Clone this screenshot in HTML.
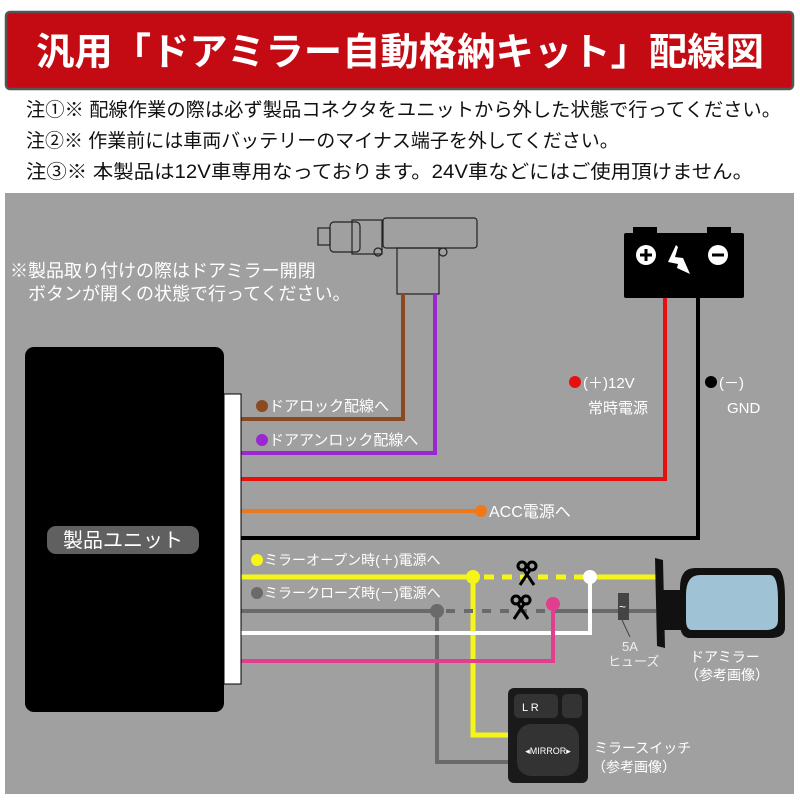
<!DOCTYPE html>
<html><head><meta charset="utf-8"><style>
html,body{margin:0;padding:0;background:#fff;width:800px;height:800px;overflow:hidden}
svg{display:block}
text{font-family:"Liberation Sans","Noto Sans CJK JP",sans-serif}
</style></head><body>
<svg width="800" height="800" viewBox="0 0 800 800" xmlns="http://www.w3.org/2000/svg">
<rect x="6" y="12" width="787" height="77" rx="4" fill="#c40a12" stroke="#555" stroke-width="2.5"/>
<text x="400" y="65" text-anchor="middle" font-size="38" font-weight="bold" fill="#fff" font-family="'Noto Sans CJK JP',sans-serif" textLength="728" lengthAdjust="spacingAndGlyphs">汎用「ドアミラー自動格納キット」配線図</text>
<g font-size="19" fill="#111">
<text x="26" y="116" textLength="755" lengthAdjust="spacingAndGlyphs">注①※ 配線作業の際は必ず製品コネクタをユニットから外した状態で行ってください。</text>
<text x="26" y="147">注②※ 作業前には車両バッテリーのマイナス端子を外してください。</text>
<text x="26" y="178" textLength="727" lengthAdjust="spacingAndGlyphs">注③※ 本製品は12V車専用なっております。24V車などにはご使用頂けません。</text>
</g>
<rect x="5" y="193" width="789" height="601" fill="#a0a0a0"/>
<g font-size="18" fill="#fff">
<text x="10" y="277">※製品取り付けの際はドアミラー開閉</text>
<text x="28" y="300">ボタンが開くの状態で行ってください。</text>
</g>
<!-- actuator -->
<g fill="none" stroke="#222" stroke-width="1.2">
<rect x="318" y="228" width="12" height="17"/>
<rect x="330" y="222" width="30" height="30" rx="4"/>
<rect x="352" y="220" width="30" height="34"/>
<rect x="383" y="218" width="94" height="30" rx="3"/>
<rect x="397" y="248" width="42" height="46"/>
<circle cx="378" cy="252" r="4"/><circle cx="443" cy="252" r="4"/>
</g>
<!-- wires -->
<g fill="none" stroke-width="4">
<path d="M240 419H403V294" stroke="#8b4a22"/>
<path d="M240 453H435V294" stroke="#9b27d0"/>
<path d="M240 479H665V298" stroke="#e8100e"/>
<path d="M240 511H481" stroke="#f07818"/>
<path d="M240 538H698V298" stroke="#000"/>
<path d="M240 577H473" stroke="#f5f51a" stroke-width="5"/>
<path d="M473 577V735H512" stroke="#f5f51a" stroke-width="5"/>
<path d="M590 577H656" stroke="#f5f51a" stroke-width="5"/>
<path d="M484 577H584" stroke="#f5f51a" stroke-width="5" stroke-dasharray="10 8"/>
<path d="M240 611H437V762H512" stroke="#6a6a6a"/>
<path d="M446 611H553" stroke="#6a6a6a" stroke-dasharray="9 9"/>
<path d="M553 611H656" stroke="#6a6a6a"/>
<path d="M240 633H590V577" stroke="#fff"/>
<path d="M240 661H553V604" stroke="#e23e90"/>
</g>
<g>
<circle cx="473" cy="577" r="7" fill="#f5f51a"/>
<circle cx="590" cy="577" r="7" fill="#fff"/>
<circle cx="437" cy="611" r="7" fill="#6a6a6a"/>
<circle cx="553" cy="604" r="7" fill="#e23e90"/>
<circle cx="481" cy="511" r="6" fill="#f07818"/>
</g>
<!-- scissors -->
<g stroke="#000" stroke-width="3" fill="none">
<g transform="translate(527,575)"><circle cx="-5" cy="-9" r="4"/><circle cx="5" cy="-9" r="4"/><path d="M-3-5L7 10M3-5L-7 10"/></g>
<g transform="translate(521,609)"><circle cx="-5" cy="-9" r="4"/><circle cx="5" cy="-9" r="4"/><path d="M-3-5L7 10M3-5L-7 10"/></g>
</g>
<!-- unit -->
<rect x="25" y="347" width="199" height="365" rx="9" fill="#000"/>
<rect x="224" y="394" width="17" height="290" fill="#fff" stroke="#000"/>
<rect x="47" y="526" width="152" height="28" rx="9" fill="#606060"/>
<text x="123" y="547" text-anchor="middle" font-size="20" fill="#fff">製品ユニット</text>
<!-- labels -->
<g font-size="15" fill="#fff">
<circle cx="262" cy="406" r="6" fill="#8b4a22"/><text x="269" y="411">ドアロック配線へ</text>
<circle cx="262" cy="440" r="6" fill="#9b27d0"/><text x="269" y="445">ドアアンロック配線へ</text>
<text x="489" y="517" font-size="16">ACC電源へ</text>
<circle cx="257" cy="560" r="6" fill="#f5f51a"/><text x="264" y="565" font-size="14">ミラーオープン時(＋)電源へ</text>
<circle cx="257" cy="593" r="6" fill="#6a6a6a"/><text x="264" y="598" font-size="14">ミラークローズ時(－)電源へ</text>
<circle cx="575" cy="382" r="6" fill="#e8100e"/><text x="583" y="388">(＋)12V</text>
<text x="588" y="413">常時電源</text>
<circle cx="711" cy="382" r="6" fill="#000"/><text x="719" y="388">(－)</text>
<text x="727" y="413">GND</text>
<text x="622" y="651" font-size="13" fill="#eee">5A</text>
<text x="608" y="666" font-size="13" fill="#eee">ヒューズ</text>
<text x="690" y="662" font-size="14">ドアミラー</text>
<text x="685" y="680" font-size="14">（参考画像）</text>
<text x="594" y="753" font-size="14">ミラースイッチ</text>
<text x="592" y="772" font-size="14">（参考画像）</text>
</g>
<!-- fuse -->
<rect x="618" y="593" width="11" height="27" fill="#444"/>
<text x="619" y="611" font-size="12" fill="#fff">~</text>
<line x1="622" y1="620" x2="630" y2="637" stroke="#444"/>
<!-- battery -->
<rect x="633" y="227" width="24" height="8" fill="#000"/><rect x="707" y="227" width="24" height="8" fill="#000"/>
<rect x="624" y="233" width="120" height="65" rx="2" fill="#000"/>
<circle cx="646" cy="255" r="10" fill="#fff"/><path d="M640 255h12M646 249v12" stroke="#000" stroke-width="3"/>
<circle cx="718" cy="255" r="10" fill="#fff"/><path d="M712 255h12" stroke="#000" stroke-width="3"/>
<path d="M676 245l-8 17 10 2-1 4 13 6-7-16-8-1 3-10z" fill="#fff"/>
<!-- mirror -->
<path d="M655 558l8 2 2 88-8-2z" fill="#111"/>
<path d="M663 590h18v40h-18z" fill="#111"/>
<path d="M695 568h80q10 0 10 30v30q0 10-15 10h-80q-10 0-10-15v-35q0-20 15-20z" fill="#111"/>
<path d="M700 575h70q8 0 8 25v20q0 10-12 10h-74q-6 0-6-10v-25q0-20 14-20z" fill="#9fc3d4"/>
<!-- switch -->
<rect x="508" y="688" width="80" height="95" rx="6" fill="#1a1a1a"/>
<rect x="514" y="694" width="44" height="24" rx="5" fill="#333"/>
<rect x="562" y="694" width="20" height="24" rx="5" fill="#333"/>
<text x="522" y="711" font-size="11" fill="#fff">L  R</text>
<rect x="517" y="724" width="62" height="52" rx="14" fill="#333"/>
<text x="548" y="754" font-size="9" fill="#fff" text-anchor="middle">◂MIRROR▸</text>
</svg>
</body></html>
